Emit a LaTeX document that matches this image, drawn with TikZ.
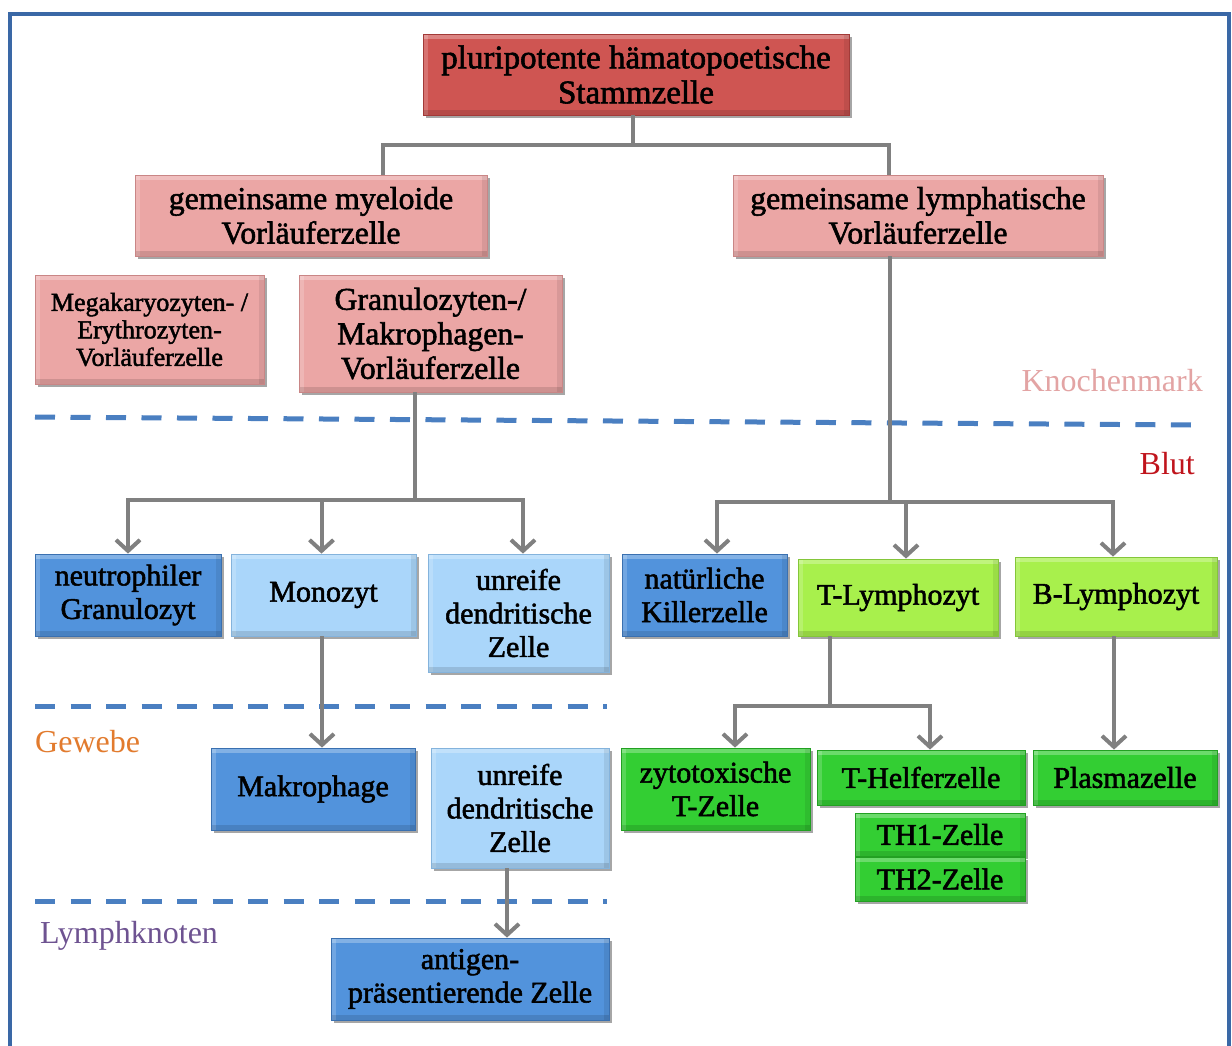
\documentclass[tikz,border=0pt]{standalone}
\usepackage{fontspec}
\setmainfont{Liberation Serif}
\newfontfamily\boxfont{Liberation Serif}[FakeBold=1.8]
\usetikzlibrary{arrows.meta,shadows}
\definecolor{framecol}{HTML}{3A68A6}
\definecolor{zonecol}{HTML}{4A7FC1}
\definecolor{conncol}{HTML}{808080}
\definecolor{redfill}{HTML}{CF5552}
\definecolor{redline}{HTML}{A23A38}
\definecolor{pinkfill}{HTML}{EBA6A5}
\definecolor{pinkline}{HTML}{C98686}
\definecolor{dbluefill}{HTML}{5293DC}
\definecolor{dblueline}{HTML}{3A70B0}
\definecolor{lbluefill}{HTML}{AAD6FA}
\definecolor{lblueline}{HTML}{84B3DC}
\definecolor{limefill}{HTML}{A8F04C}
\definecolor{limeline}{HTML}{84C63A}
\definecolor{greenfill}{HTML}{33CE33}
\definecolor{greenline}{HTML}{22A022}
\definecolor{knochcol}{HTML}{E3A4A4}
\definecolor{blutcol}{HTML}{C0141C}
\definecolor{gewebecol}{HTML}{E27B2E}
\definecolor{lymphcol}{HTML}{6E5391}
\begin{document}
\begin{tikzpicture}[x=1pt,y=-1pt,
  cellbox/.style={rectangle, inner sep=0pt, align=center, line width=0.8pt,
    text=black, font=\boxfont\fontsize{30}{33.5}\selectfont,
    drop shadow={shadow xshift=2.5pt, shadow yshift=-3pt, opacity=0.35, fill=black},
    path picture={
      \fill[white,opacity=0.28] (path picture bounding box.north west) rectangle ([yshift=-5pt]path picture bounding box.north east);
      \fill[white,opacity=0.18] (path picture bounding box.north west) rectangle ([xshift=5pt]path picture bounding box.south west);
      \fill[black,opacity=0.12] (path picture bounding box.south west) rectangle ([yshift=5pt]path picture bounding box.south east);
      \fill[black,opacity=0.08] (path picture bounding box.north east) rectangle ([xshift=-5pt]path picture bounding box.south east);
    }},
  redbox/.style={cellbox, fill=redfill, draw=redline},
  pinkbox/.style={cellbox, fill=pinkfill, draw=pinkline},
  dbluebox/.style={cellbox, fill=dbluefill, draw=dblueline},
  lbluebox/.style={cellbox, fill=lbluefill, draw=lblueline},
  limebox/.style={cellbox, fill=limefill, draw=limeline},
  greenbox/.style={cellbox, fill=greenfill, draw=greenline},
  bigtext/.style={font=\boxfont\fontsize{31.7}{34.5}\selectfont},
  conn/.style={draw=conncol, line width=4pt},
  arr/.style={conn, -{Straight Barb[length=11pt,width=24pt]}},
  zone/.style={draw=zonecol, line width=5pt, dash pattern=on 20pt off 15.5pt},
  zonelabel/.style={inner sep=0pt, font=\fontsize{32}{35}\selectfont}
]
\useasboundingbox (0,0) rectangle (1232,1045);
\fill[white] (0,0) rectangle (1232,1045);
% frame
\draw[framecol, line width=4pt] (10,1060) -- (10,14) -- (1229,14) -- (1229,1060);

% zone separators
\draw[zone] (35,417) -- (1192,425);
\draw[zone] (35,706) -- (607,706);
\draw[zone] (35,901) -- (607,901);

% zone labels
\node[zonelabel, text=knochcol, anchor=east] (lknochen) at (1203,381) {Knochenmark};
\node[zonelabel, text=blutcol, anchor=east] (lblut) at (1195,464) {Blut};
\node[zonelabel, text=gewebecol, anchor=west] (lgewebe) at (35,742) {Gewebe};
\node[zonelabel, text=lymphcol, anchor=west] (llymph) at (40,936) {Lymphknoten};

% nodes
\node[redbox, minimum width=426pt, minimum height=81pt, font=\boxfont\fontsize{33}{35}\selectfont] (stem) at (636,74.5) {pluripotente hämatopoetische\\Stammzelle};
\node[pinkbox, bigtext, minimum width=352pt, minimum height=81pt] (myelo) at (311,215.5) {gemeinsame myeloide\\Vorläuferzelle};
\node[pinkbox, bigtext, minimum width=370pt, minimum height=81pt] (lymph) at (918,215.5) {gemeinsame lymphatische\\Vorläuferzelle};
\node[pinkbox, minimum width=229pt, minimum height=109pt, font=\boxfont\fontsize{26}{27.5}\selectfont] (mega) at (149.5,329.5) {Megakaryozyten- /\\Erythrozyten-\\Vorläuferzelle};
\node[pinkbox, bigtext, minimum width=263pt, minimum height=117pt] (granu) at (430.5,333.5) {Granulozyten-/\\Makrophagen-\\Vorläuferzelle};

\node[dbluebox, minimum width=186pt, minimum height=82pt] (neutro) at (128,595) {neutrophiler\\Granulozyt};
\node[lbluebox, minimum width=185pt, minimum height=82pt] (mono) at (323.5,595) {Monozyt};
\node[lbluebox, minimum width=181pt, minimum height=118pt] (dendA) at (518.5,613) {unreife\\dendritische\\Zelle};
\node[dbluebox, minimum width=165pt, minimum height=82pt] (nk) at (704.5,595) {natürliche\\Killerzelle};
\node[limebox, minimum width=200pt, minimum height=77pt] (tly) at (898,597.5) {T-Lymphozyt};
\node[limebox, minimum width=202pt, minimum height=79pt] (bly) at (1116,596.5) {B-Lymphozyt};

\node[dbluebox, minimum width=204pt, minimum height=82pt] (makro) at (313,789) {Makrophage};
\node[lbluebox, minimum width=178pt, minimum height=120pt] (dendB) at (520,808) {unreife\\dendritische\\Zelle};
\node[dbluebox, minimum width=278pt, minimum height=82pt] (apc) at (470,979) {antigen-\\präsentierende Zelle};

\node[greenbox, minimum width=189pt, minimum height=82pt] (zyto) at (715.5,789) {zytotoxische\\T-Zelle};
\node[greenbox, minimum width=208pt, minimum height=55pt] (thelf) at (921,777.5) {T-Helferzelle};
\node[greenbox, minimum width=170pt, minimum height=43pt] (thone) at (940,834.5) {TH1-Zelle};
\node[greenbox, minimum width=170pt, minimum height=44pt] (thtwo) at (940,879) {TH2-Zelle};
\node[greenbox, minimum width=184pt, minimum height=55pt] (plasma) at (1125,777.5) {Plasmazelle};

% connectors
\draw[conn] ([xshift=-3pt]stem.south) -- ++(0,30);
\draw[conn] ([xshift=72pt]myelo.north) -- ++(0,-30) -| ([xshift=-29pt]lymph.north);

\coordinate (gb) at (415,500);
\draw[conn] ([xshift=-15.5pt]granu.south) -- (gb);
\draw[arr] (gb) -| (neutro.north);
\draw[arr] (gb) -| ([xshift=4.5pt]dendA.north);
\draw[arr] ([xshift=-2pt]mono.north |- gb) -- ([xshift=-2pt]mono.north);

\coordinate (lb) at (890,502);
\draw[conn] ([xshift=-28pt]lymph.south) -- (lb);
\draw[arr] (lb) -| ([xshift=12.5pt]nk.north);
\draw[arr] (lb) -| ([xshift=-3pt]bly.north);
\draw[arr] ([xshift=8pt]tly.north |- lb) -- ([xshift=8pt]tly.north);

\draw[arr] ([xshift=-1.5pt]mono.south) -- ([xshift=-1.5pt]mono.south |- makro.north);

\coordinate (tb) at (830,706);
\draw[conn] ([xshift=-68pt]tly.south) -- (tb);
\draw[arr] (tb) -| ([xshift=19.5pt]zyto.north);
\draw[arr] (tb) -| ([xshift=9pt]thelf.north);

\draw[arr] ([xshift=-2pt]bly.south) -- ([xshift=-2pt]bly.south |- plasma.north);
\draw[arr] ([xshift=-13pt]dendB.south) -- ([xshift=-13pt]dendB.south |- apc.north);
\end{tikzpicture}
\end{document}
